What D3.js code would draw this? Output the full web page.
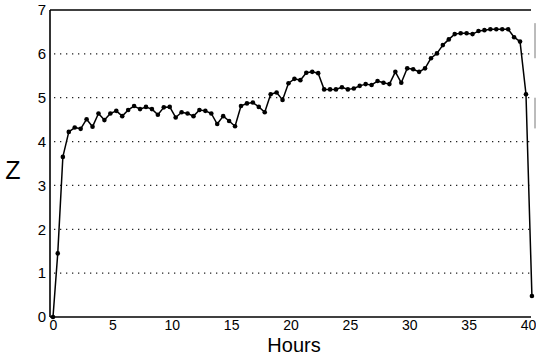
<!DOCTYPE html>
<html>
<head>
<meta charset="utf-8">
<script src="https://cdn.jsdelivr.net/npm/d3@7"></script>
<style>
  html, body { margin: 0; padding: 0; background: #fff; }
  svg { display: block; }
  text { font-family: "Liberation Sans", Arial, Helvetica, sans-serif; fill: #000; }
</style>
</head>
<body>
<svg id="chart" width="536" height="356"></svg>
<script>
// Sample times (hours)
const hours = [
  0, 0.4, 0.83, 1.33, 1.83, 2.33, 2.83, 3.33, 3.83, 4.33, 4.83,
  5.33, 5.83, 6.33, 6.83, 7.33, 7.83, 8.33, 8.83, 9.33, 9.83,
  10.33, 10.83, 11.33, 11.83, 12.33, 12.83, 13.33, 13.83, 14.33, 14.83,
  15.33, 15.83, 16.33, 16.83, 17.33, 17.83, 18.33, 18.83, 19.33, 19.83,
  20.33, 20.83, 21.33, 21.83, 22.33, 22.83, 23.33, 23.83, 24.33, 24.83,
  25.33, 25.83, 26.33, 26.83, 27.33, 27.83, 28.33, 28.83, 29.33, 29.83,
  30.33, 30.83, 31.33, 31.83, 32.33, 32.83, 33.33, 33.83, 34.33, 34.83,
  35.33, 35.83, 36.33, 36.83, 37.33, 37.83, 38.33, 38.83, 39.33, 39.83,
  40.33
];

// Z value at each sample
const zValues = [
  0, 1.45, 3.65, 4.22, 4.32, 4.29, 4.51, 4.34, 4.64, 4.49, 4.64,
  4.70, 4.58, 4.72, 4.81, 4.74, 4.79, 4.74, 4.61, 4.78, 4.79,
  4.55, 4.67, 4.64, 4.58, 4.72, 4.70, 4.64, 4.40, 4.58, 4.47,
  4.35, 4.81, 4.87, 4.89, 4.79, 4.67, 5.08, 5.12, 4.95, 5.33,
  5.43, 5.40, 5.57, 5.59, 5.56, 5.19, 5.19, 5.19, 5.24, 5.19,
  5.21, 5.27, 5.31, 5.29, 5.38, 5.34, 5.31, 5.59, 5.34, 5.67,
  5.65, 5.59, 5.67, 5.90, 6.01, 6.20, 6.33, 6.45, 6.47, 6.47,
  6.45, 6.52, 6.54, 6.56, 6.56, 6.56, 6.56, 6.38, 6.28, 5.08,
  0.48
];

const xTicks = [0, 5, 10, 15, 20, 25, 30, 35, 40];
const yTicks = [0, 1, 2, 3, 4, 5, 6, 7];
const gridLevels = [1, 2, 3, 4, 5, 6];

const data = hours.map((h, i) => ({ h, z: zValues[i] }));

const svg = d3.select("#chart");

const x = d3.scaleLinear().domain([0, 40]).range([53, 528]);
const y = d3.scaleLinear().domain([0, 7]).range([317, 10]);

const frameLeft = 50, frameRight = 531;

// Dotted horizontal grid
svg.append("g")
  .selectAll("line")
  .data(gridLevels)
  .join("line")
  .attr("x1", frameLeft + 4)
  .attr("x2", frameRight)
  .attr("y1", d => y(d))
  .attr("y2", d => y(d))
  .attr("stroke", "#222")
  .attr("stroke-width", 1.2)
  .attr("stroke-dasharray", "1.3,4.7");

// Frame: left, top, bottom
const frame = svg.append("g").attr("stroke", "#000").attr("fill", "none");
frame.append("line")
  .attr("x1", frameLeft).attr("x2", frameLeft)
  .attr("y1", y(7)).attr("y2", y(0))
  .attr("stroke-width", 1.6);
frame.append("line")
  .attr("x1", frameLeft).attr("x2", frameRight)
  .attr("y1", y(7)).attr("y2", y(7))
  .attr("stroke-width", 1.4);
frame.append("line")
  .attr("x1", frameLeft).attr("x2", frameRight)
  .attr("y1", y(0)).attr("y2", y(0))
  .attr("stroke-width", 1.6);
// Right edge pieces
frame.append("line")
  .attr("x1", 535).attr("x2", 535)
  .attr("y1", y(6.7)).attr("y2", y(5.9))
  .attr("stroke", "#555")
  .attr("stroke-width", 0.8);
frame.append("line")
  .attr("x1", 535).attr("x2", 535)
  .attr("y1", y(5.0)).attr("y2", y(4.3))
  .attr("stroke", "#555")
  .attr("stroke-width", 0.8);

// Axes (labels only)
const xAxis = d3.axisBottom(x).tickValues(xTicks).tickFormat(d3.format("d")).tickSize(0).tickPadding(3);
svg.append("g")
  .attr("transform", `translate(0,${y(0)})`)
  .call(xAxis)
  .call(g => g.select(".domain").remove())
  .call(g => g.selectAll("text")
    .style("font-family", "'Liberation Sans', Arial, sans-serif")
    .style("font-size", "14px")
    .attr("fill", "#000"));

const yAxis = d3.axisLeft(y).tickValues(yTicks).tickFormat(d3.format("d")).tickSize(0).tickPadding(4);
svg.append("g")
  .attr("transform", `translate(${frameLeft},0)`)
  .call(yAxis)
  .call(g => g.select(".domain").remove())
  .call(g => g.selectAll("text")
    .style("font-family", "'Liberation Sans', Arial, sans-serif")
    .style("font-size", "15px")
    .attr("fill", "#000"));

// Axis titles
svg.append("text")
  .attr("x", 294)
  .attr("y", 351.5)
  .attr("text-anchor", "middle")
  .style("font-size", "20px")
  .text("Hours");

svg.append("text")
  .attr("x", 13)
  .attr("y", 179)
  .attr("text-anchor", "middle")
  .style("font-size", "25px")
  .text("Z");

// Series line
const line = d3.line().x(d => x(d.h)).y(d => y(d.z));
svg.append("path")
  .datum(data)
  .attr("d", line)
  .attr("fill", "none")
  .attr("stroke", "#000")
  .attr("stroke-width", 1.5)
  .attr("stroke-linejoin", "round");

// Markers
svg.append("g")
  .selectAll("circle")
  .data(data)
  .join("circle")
  .attr("cx", d => x(d.h))
  .attr("cy", d => y(d.z))
  .attr("r", 2.3)
  .attr("fill", "#000");
</script>
</body>
</html>
